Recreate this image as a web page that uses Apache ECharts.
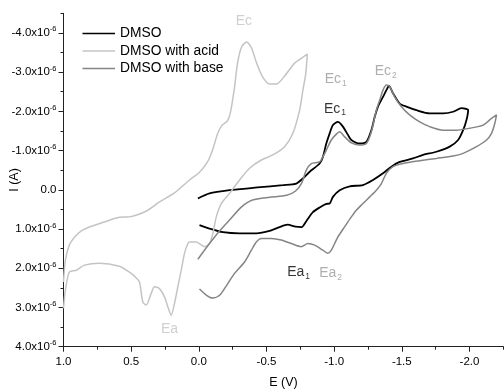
<!DOCTYPE html>
<html><head><meta charset="utf-8">
<script src="https://cdn.jsdelivr.net/npm/echarts@6/dist/echarts.min.js"></script>
<style>html,body{margin:0;padding:0;background:#fff}#c{width:504px;height:389px}</style>
</head><body><div id="c"></div>
<script>
// Potential E (V) and current I (in units of 1e-6 A)
const dmso = [[0.007,0.22],[-0.079,0.09],[-0.227,0.01],[-0.434,-0.06],[-0.621,-0.12],[-0.720,-0.16],[-0.769,-0.29],[-0.819,-0.46],[-0.893,-0.67],[-0.917,-0.84],[-0.942,-1.18],[-0.967,-1.44],[-0.991,-1.65],[-1.028,-1.73],[-1.065,-1.61],[-1.102,-1.40],[-1.127,-1.27],[-1.189,-1.18],[-1.238,-1.22],[-1.275,-1.52],[-1.300,-1.86],[-1.324,-2.12],[-1.361,-2.37],[-1.386,-2.54],[-1.405,-2.65],[-1.435,-2.46],[-1.484,-2.20],[-1.534,-2.12],[-1.608,-2.03],[-1.706,-1.95],[-1.805,-1.95],[-1.879,-1.99],[-1.941,-2.08],[-1.990,-2.03],[-1.978,-1.78],[-1.953,-1.52],[-1.916,-1.27],[-1.854,-1.10],[-1.756,-0.97],[-1.657,-0.89],[-1.583,-0.80],[-1.484,-0.71],[-1.423,-0.59],[-1.361,-0.42],[-1.287,-0.25],[-1.213,-0.12],[-1.115,-0.09],[-1.041,0.01],[-0.991,0.18],[-0.967,0.35],[-0.942,0.36],[-0.893,0.45],[-0.843,0.57],[-0.794,0.80],[-0.760,0.95],[-0.715,0.94],[-0.656,0.89],[-0.597,0.95],[-0.523,1.05],[-0.425,1.11],[-0.301,1.11],[-0.178,1.08],[-0.079,0.99],[-0.005,0.90]];
const acid = [[1.00,2.35],[0.986,1.79],[0.957,1.41],[0.919,1.21],[0.868,1.05],[0.794,0.93],[0.698,0.82],[0.587,0.70],[0.513,0.69],[0.387,0.54],[0.291,0.31],[0.180,0.08],[0.069,-0.25],[-0.005,-0.45],[-0.064,-0.71],[-0.101,-1.01],[-0.138,-1.42],[-0.168,-1.63],[-0.212,-1.76],[-0.234,-1.98],[-0.264,-2.62],[-0.286,-3.23],[-0.316,-3.64],[-0.353,-3.77],[-0.390,-3.61],[-0.427,-3.23],[-0.471,-2.88],[-0.523,-2.70],[-0.575,-2.70],[-0.634,-2.90],[-0.708,-3.23],[-0.760,-3.36],[-0.802,-3.46],[-0.789,-2.93],[-0.769,-2.54],[-0.745,-2.03],[-0.695,-1.44],[-0.634,-1.10],[-0.547,-0.89],[-0.462,-0.76],[-0.375,-0.55],[-0.301,-0.25],[-0.227,0.09],[-0.166,0.35],[-0.129,0.69],[-0.104,1.11],[-0.079,1.37],[-0.042,1.45],[0.019,1.33],[0.069,1.33],[0.081,1.37],[0.106,1.62],[0.130,2.05],[0.155,2.47],[0.180,2.90],[0.204,3.20],[0.229,2.98],[0.254,2.73],[0.291,2.52],[0.328,2.47],[0.352,2.64],[0.389,2.94],[0.414,2.86],[0.439,2.35],[0.476,2.20],[0.513,2.10],[0.587,1.95],[0.734,1.87],[0.845,1.92],[0.904,2.05],[0.957,2.10],[0.986,2.56],[1.00,3.02]];
const base = [[0.007,1.77],[-0.079,1.37],[-0.153,1.05],[-0.227,0.77],[-0.314,0.44],[-0.397,0.26],[-0.523,0.19],[-0.649,0.14],[-0.715,0.03],[-0.760,-0.17],[-0.794,-0.50],[-0.831,-0.67],[-0.893,-0.71],[-0.917,-0.84],[-0.942,-1.01],[-0.979,-1.27],[-1.016,-1.42],[-1.041,-1.48],[-1.078,-1.35],[-1.127,-1.20],[-1.189,-1.14],[-1.238,-1.18],[-1.275,-1.48],[-1.312,-2.03],[-1.337,-2.29],[-1.361,-2.54],[-1.386,-2.67],[-1.410,-2.63],[-1.447,-2.37],[-1.497,-2.12],[-1.558,-1.91],[-1.632,-1.73],[-1.706,-1.61],[-1.805,-1.52],[-1.904,-1.52],[-2.002,-1.57],[-2.101,-1.65],[-2.163,-1.82],[-2.200,-1.91],[-2.187,-1.69],[-2.163,-1.44],[-2.126,-1.27],[-2.052,-1.10],[-1.953,-0.93],[-1.879,-0.86],[-1.756,-0.80],[-1.632,-0.74],[-1.509,-0.67],[-1.435,-0.59],[-1.386,-0.42],[-1.349,-0.16],[-1.312,0.01],[-1.263,0.18],[-1.213,0.35],[-1.164,0.52],[-1.127,0.69],[-1.078,0.94],[-1.028,1.20],[-0.979,1.54],[-0.954,1.62],[-0.917,1.54],[-0.856,1.41],[-0.806,1.37],[-0.757,1.45],[-0.683,1.37],[-0.609,1.28],[-0.536,1.24],[-0.462,1.24],[-0.425,1.33],[-0.388,1.54],[-0.338,1.84],[-0.264,2.13],[-0.214,2.39],[-0.153,2.69],[-0.104,2.76],[-0.057,2.69],[-0.005,2.53]];
const seriesNames = ['DMSO', 'DMSO with acid', 'DMSO with base'];
const xTickValues = [1.0, 0.5, 0.0, -0.5, -1.0, -1.5, -2.0];
const yTickValues = [-4, -3, -2, -1, 0, 1, 2, 3, 4];
const peakLabels = [
  {text: 'Ec', sub: '', E: -0.333, I: -4.30, kind: 'acid'},
  {text: 'Ec', sub: '1', E: -1.012, I: -2.82, kind: 'base'},
  {text: 'Ec', sub: '1', E: -1.006, I: -2.06, kind: 'dmso'},
  {text: 'Ec', sub: '2', E: -1.381, I: -3.02, kind: 'base'},
  {text: 'Ea', sub: '', E: 0.217, I: 3.55, kind: 'acid'},
  {text: 'Ea', sub: '1', E: -0.737, I: 2.10, kind: 'dmso'},
  {text: 'Ea', sub: '2', E: -0.974, I: 2.13, kind: 'base'}
];

const FONT = 'Arial, "Liberation Sans", sans-serif';
const colors = {dmso: '#000000', acid: '#c4c4c4', base: '#858585'};
const widths = {dmso: 1.8, acid: 1.5, base: 1.5};
const labelColors = {dmso: '#000000', acid: '#c4c4c4', base: '#9a9a9a'};

const chart = echarts.init(document.getElementById('c'), null, {renderer: 'canvas'});
const XMIN = -2.25, XMAX = 1.0, YMIN = -4.5, YMAX = 4.0;
const gridDef = {left: 63.5, right: 0.7, top: 13.3, bottom: 42.3, outerBoundsMode: 'none', containLabel: false};

function lineSeries(name, data, kind) {
  return {
    name, type: 'line', data, color: colors[kind], symbol: 'none', showSymbol: false, smooth: 0.25,
    lineStyle: {color: colors[kind], width: widths[kind]}, z: 3, silent: true, animation: false
  };
}

const option = {
  animation: false,
  grid: gridDef,
  legend: {
    data: seriesNames, orient: 'vertical', left: 77.5, top: 21.5,
    itemWidth: 32.5, itemHeight: 14, itemGap: 3.5,
    textStyle: {fontFamily: FONT, fontSize: 13.8, color: '#000'},
    icon: 'path://M0,0 L100,0 L100,4 L0,4 Z', selectedMode: false
  },
  xAxis: [{
    type: 'value', inverse: true, min: XMIN, max: XMAX, interval: 0.25,
    name: 'E (V)', nameLocation: 'middle', nameGap: 29, nameMoveOverlap: false,
    nameTextStyle: {fontFamily: FONT, fontSize: 12.5, color: '#000'},
    axisLine: {show: true, onZero: false, lineStyle: {color: '#222', width: 1}},
    axisTick: {show: true, customValues: xTickValues, length: 5, inside: false, lineStyle: {color: '#222'}},
    axisLabel: {customValues: xTickValues, margin: 9, fontFamily: FONT, fontSize: 11.5, color: '#000',
      formatter: v => v.toFixed(1)},
    splitLine: {show: false}
  }, {
    type: 'value', inverse: true, min: XMIN, max: XMAX, interval: 0.25, position: 'bottom',
    axisLine: {show: false, onZero: false}, axisTick: {show: true, length: 3, lineStyle: {color: '#222'}},
    axisLabel: {show: false}, splitLine: {show: false}
  }],
  yAxis: [{
    type: 'value', inverse: true, min: YMIN, max: YMAX, interval: 0.5,
    name: 'I (A)', nameLocation: 'middle', nameGap: 42, nameRotate: 90, nameMoveOverlap: false,
    nameTextStyle: {fontFamily: FONT, fontSize: 12.5, color: '#000'},
    axisLine: {show: true, onZero: false, lineStyle: {color: '#222', width: 1}},
    axisTick: {show: true, customValues: yTickValues, length: 5, lineStyle: {color: '#222'}},
    axisLabel: {customValues: yTickValues, margin: 7, fontFamily: FONT, fontSize: 11.5, color: '#000',
      formatter: v => v === 0 ? '0.0' : '{m|' + v.toFixed(1) + 'x10}{s|-6}',
      rich: {m: {fontFamily: FONT, fontSize: 11.5, color: '#000'},
             s: {fontFamily: FONT, fontSize: 7.5, color: '#000', padding: [0, 0, 7, 0]}}},
    splitLine: {show: false}
  }, {
    type: 'value', inverse: true, min: YMIN, max: YMAX, interval: 0.5, position: 'left',
    axisLine: {show: false, onZero: false}, axisTick: {show: true, length: 3, lineStyle: {color: '#222'}},
    axisLabel: {show: false}, splitLine: {show: false}
  }],
  series: [
    lineSeries(seriesNames[0], dmso, 'dmso'),
    lineSeries(seriesNames[1], acid, 'acid'),
    lineSeries(seriesNames[2], base, 'base'),
    {
      type: 'scatter', name: 'labels', silent: true, symbolSize: 1, z: 5,
      itemStyle: {color: 'rgba(0,0,0,0)'},
      data: peakLabels.map(p => ({
        value: [p.E, p.I],
        label: {
          show: true, position: 'inside',
          formatter: p.sub ? '{m|' + p.text + '}{s|' + p.sub + '}' : '{m|' + p.text + '}',
          rich: {
            m: {fontFamily: FONT, fontSize: 14, color: labelColors[p.kind]},
            s: {fontFamily: FONT, fontSize: 8.5, color: labelColors[p.kind], padding: [8, 0, 0, 1]}
          }
        }
      }))
    }
  ]
};
chart.setOption(option);
</script>
</body></html>
